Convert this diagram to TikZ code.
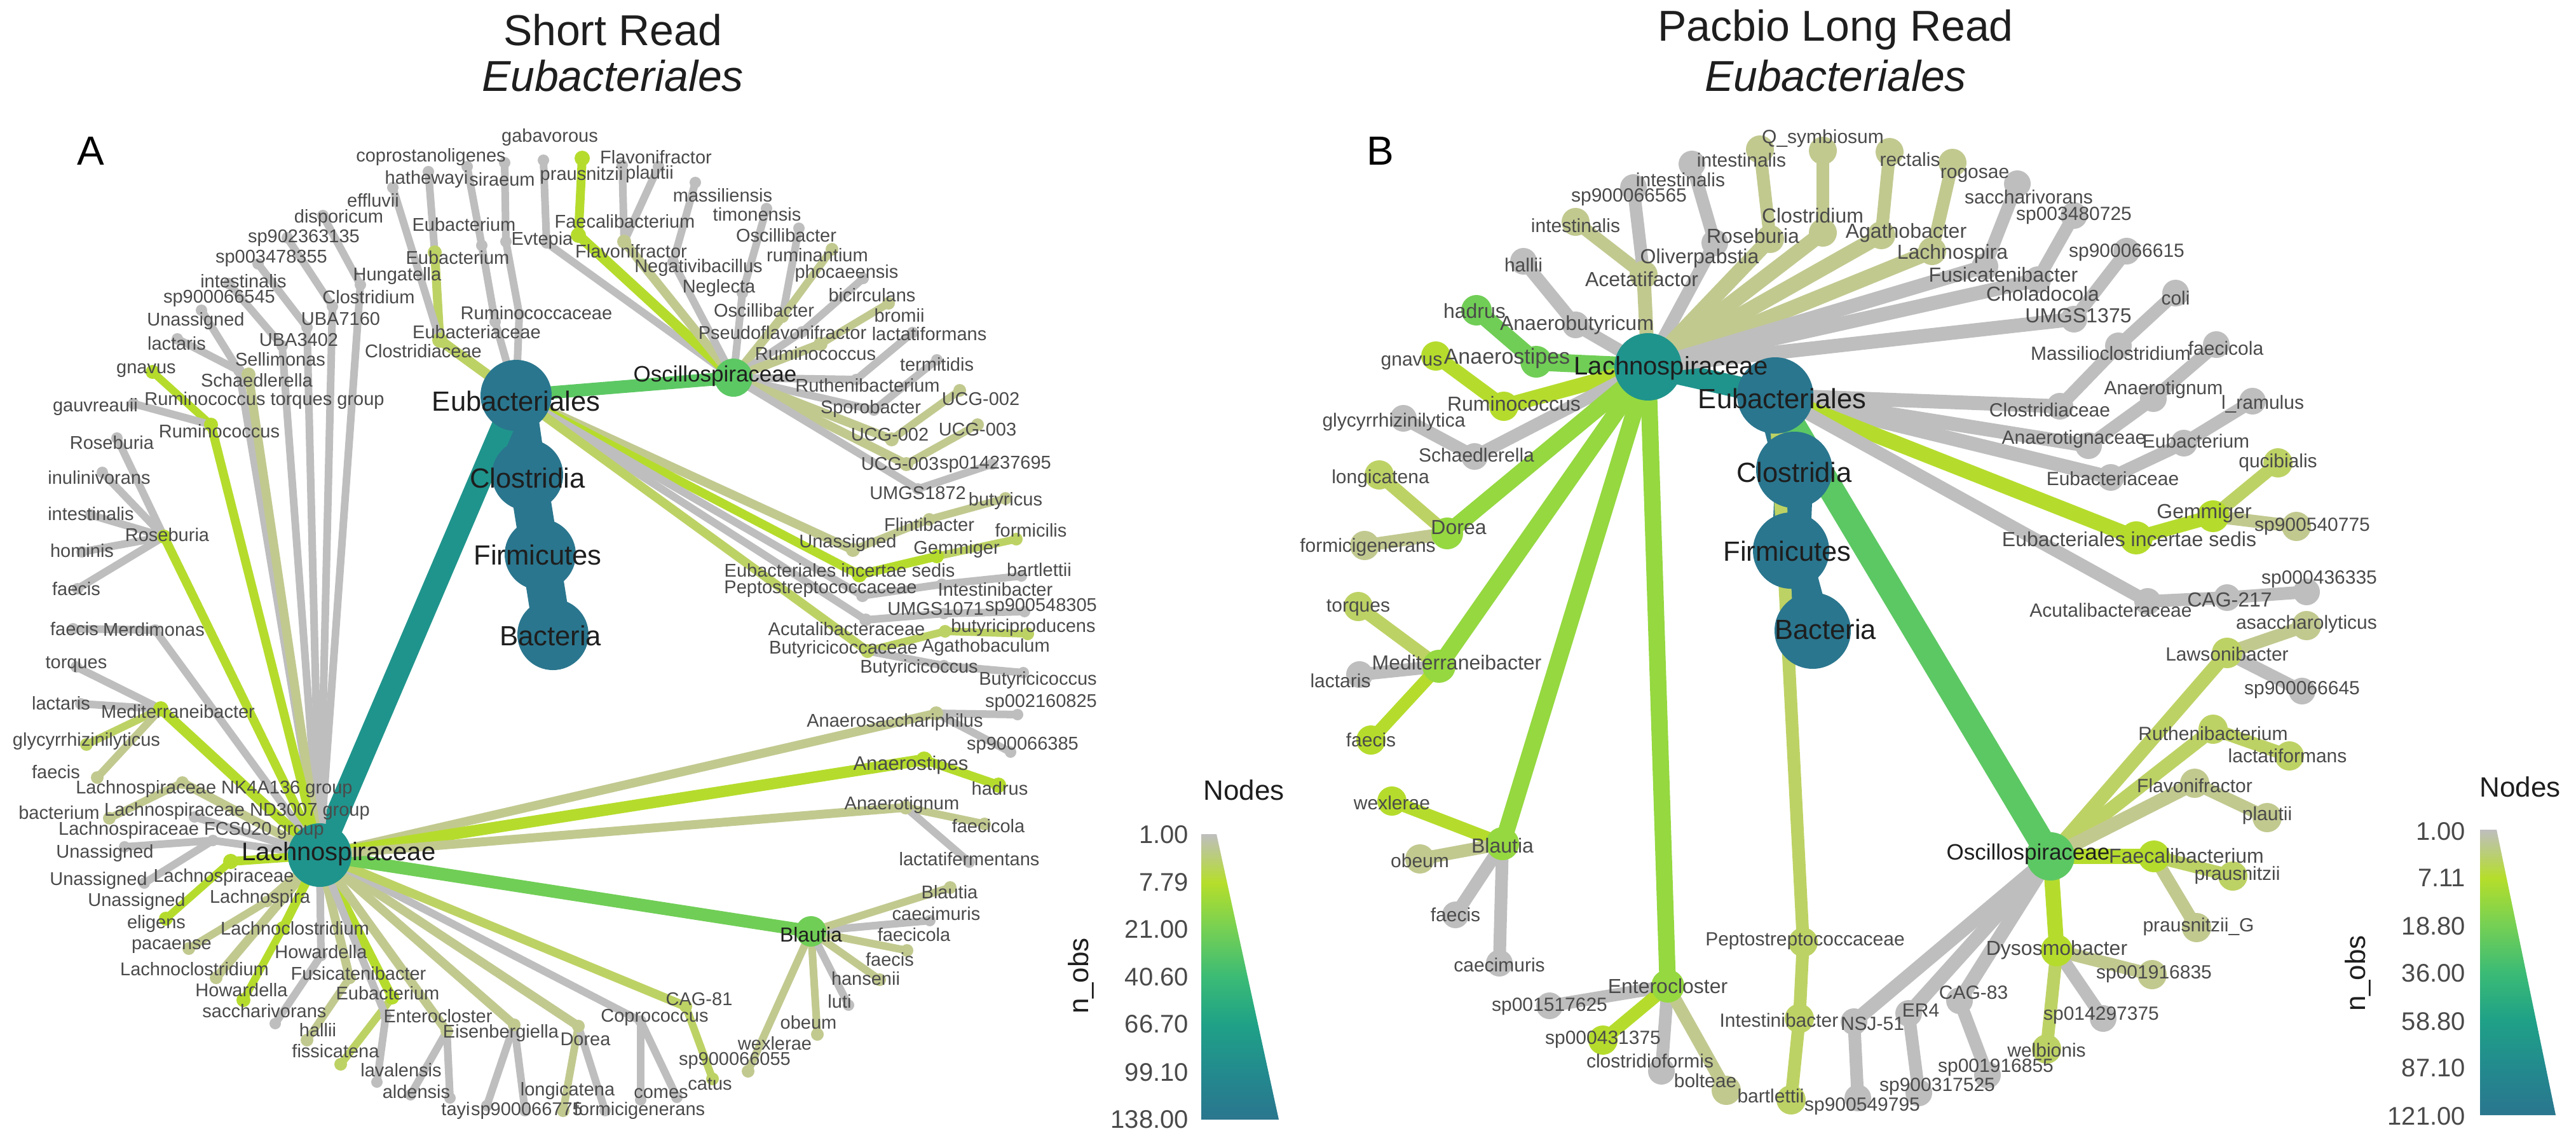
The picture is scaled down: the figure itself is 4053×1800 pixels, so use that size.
\documentclass[tikz,border=0pt]{standalone}
\usepackage{fontspec}
\setmainfont{Liberation Sans}
\pgfdeclarelayer{bg}
\pgfsetlayers{bg,main}
\definecolor{gy}{HTML}{BEBEBE}
\definecolor{ol}{HTML}{C2C98F}
\definecolor{oy}{HTML}{BDD264}
\definecolor{yg}{HTML}{B5DC2C}
\definecolor{lg}{HTML}{95D840}
\definecolor{gn}{HTML}{70CE56}
\definecolor{gm}{HTML}{5CC863}
\definecolor{tl}{HTML}{1F948C}
\definecolor{dk}{HTML}{2A768E}
\definecolor{txt}{HTML}{4A4A4A}
\definecolor{txb}{HTML}{1E1E1E}
\definecolor{sha}{HTML}{23898E}
\definecolor{shb}{HTML}{1FA187}
\definecolor{shc}{HTML}{3BBB75}
\definecolor{shd}{HTML}{75D054}
\definecolor{she}{HTML}{B5DE2B}
\pgfdeclareverticalshading{nobs}{100bp}{color(0bp)=(dk); color(25bp)=(dk); color(33bp)=(sha); color(41.7bp)=(shb); color(50bp)=(shc); color(58.3bp)=(shd); color(66.5bp)=(she); color(75bp)=(gy); color(100bp)=(gy)}
\newcounter{lab}
\newcommand\ndot[5]{\node[circle,inner sep=0pt,fill=#4,minimum size=#5pt] (#1) at (#2,#3) {};}
\newcommand\nedge[4]{\draw[line width=#4pt,draw=#3] (#1.center) -- (#2.center);}
\newcommand\nlab[4]{\stepcounter{lab}\node[text=txt,inner sep=0pt,font=\fontsize{#4pt}{#4pt}\selectfont] (t\arabic{lab}) at (#1,#2) {#3};}
\newcommand\nbig[4]{\stepcounter{lab}\node[text=txb,inner sep=0pt,font=\fontsize{#4pt}{#4pt}\selectfont] (t\arabic{lab}) at (#1,#2) {#3};}
\begin{document}
\begin{tikzpicture}[x=0.5pt,y=-0.5pt]
\useasboundingbox (0,0) rectangle (4053,1800);
% ================= LEFT PANEL dots
\ndot{Aeub}{812}{622}{dk}{56}
\ndot{Aclo}{830}{747}{dk}{56}
\ndot{Afir}{850}{872}{dk}{56}
\ndot{Abac}{870}{998}{dk}{56}
\ndot{Alach}{503}{1345}{tl}{50}
\ndot{Aosc}{1154}{594}{gm}{30}
\ndot{Ablau}{1276}{1465}{gn}{24}
\ndot{Aa1}{779}{506}{gy}{9}
\ndot{Aa2}{758}{386}{gy}{9}
\ndot{Aa3}{735}{262}{gy}{9}
\ndot{Ab1}{817}{494}{gy}{9}
\ndot{Ab2}{796}{380}{gy}{9}
\ndot{Ab3}{794}{256}{gy}{9}
\ndot{Aebc}{692}{535}{oy}{12}
\ndot{Aebm}{684}{397}{oy}{11}
\ndot{Ahath}{674}{270}{gy}{9}
\ndot{Aeffl}{618}{295}{gy}{9}
\ndot{Aunas}{1342}{865}{ol}{11}
\ndot{Aflin}{1462}{817}{ol}{10}
\ndot{Abuty}{1582}{784}{ol}{10}
\ndot{Aics}{1352}{904}{yg}{12}
\ndot{Agem}{1474}{875}{yg}{11}
\ndot{Aform}{1599}{848}{oy}{10}
\ndot{Apep}{1357}{937}{gy}{10}
\ndot{Aintb}{1482}{919}{gy}{9}
\ndot{Abart}{1607}{906}{gy}{9}
\ndot{Aacu}{1362}{975}{gy}{10}
\ndot{Aumgb}{1485}{965}{gy}{9}
\ndot{Aspf}{1612}{962}{gy}{9}
\ndot{Abuc}{1365}{1024}{oy}{11}
\ndot{Aagb}{1487}{993}{oy}{10}
\ndot{Abpro}{1617}{997}{oy}{10}
\ndot{Abcg}{1485}{1047}{gy}{9}
\ndot{Abcs}{1610}{1058}{gy}{9}
\ndot{Aevt}{860}{382}{gy}{9}
\ndot{Agaba}{855}{252}{gy}{9}
\ndot{Afae}{910}{370}{yg}{12}
\ndot{Aprau}{916}{249}{yg}{12}
\ndot{Aflv}{982}{380}{ol}{11}
\ndot{Aflvs}{979}{260}{gy}{9}
\ndot{Aplau}{1036}{262}{gy}{9}
\ndot{Aneg}{1059}{412}{gy}{9}
\ndot{Amass}{1094}{287}{gy}{9}
\ndot{Anegl}{1168}{461}{gy}{9}
\ndot{Atimo}{1206}{328}{gy}{9}
\ndot{Aosb}{1231}{498}{ol}{10}
\ndot{Aosbs}{1257}{359}{gy}{9}
\ndot{Arumt}{1309}{392}{ol}{10}
\ndot{Apseu}{1262}{522}{gy}{9}
\ndot{Aphoc}{1358}{438}{gy}{9}
\ndot{Arum}{1291}{541}{ol}{11}
\ndot{Abrom}{1398}{477}{ol}{10}
\ndot{Aruth}{1347}{597}{gy}{9}
\ndot{Alacf}{1436}{523}{gy}{9}
\ndot{Aspor}{1375}{645}{gy}{9}
\ndot{Aterm}{1474}{566}{gy}{9}
\ndot{Aucgb}{1403}{691}{ol}{11}
\ndot{Aucgbs}{1510}{614}{ol}{10}
\ndot{Aucgc}{1426}{730}{ol}{11}
\ndot{Aucgcs}{1538}{668}{ol}{10}
\ndot{Aumg}{1444}{769}{gy}{9}
\ndot{Aspg}{1561}{730}{gy}{9}
\ndot{Ahung}{567}{448}{gy}{9}
\ndot{Adisp}{508}{339}{gy}{9}
\ndot{Aclos}{523}{482}{gy}{9}
\ndot{Asa}{452}{374}{gy}{9}
\ndot{Aub}{483}{515}{gy}{9}
\ndot{Asb}{406}{415}{gy}{9}
\ndot{Auc}{444}{544}{gy}{9}
\ndot{Aint}{360}{446}{gy}{9}
\ndot{Asel}{376}{583}{gy}{9}
\ndot{Alact}{279}{533}{gy}{9}
\ndot{Asc}{317}{488}{gy}{9}
\ndot{Asch}{391}{589}{ol}{11}
\ndot{Arumi}{332}{668}{yg}{11}
\ndot{Agnav}{240}{585}{yg}{11}
\ndot{Agauv}{210}{635}{gy}{9}
\ndot{Aros}{258}{844}{yg}{11}
\ndot{Arint}{143}{810}{gy}{9}
\ndot{Arhom}{129}{868}{gy}{9}
\ndot{Arfae}{122}{926}{gy}{9}
\ndot{Arros}{184}{689}{gy}{9}
\ndot{Arinu}{161}{743}{gy}{9}
\ndot{Amer}{244}{991}{gy}{9}
\ndot{Amfae}{115}{989}{gy}{9}
\ndot{Amed}{253}{1115}{yg}{12}
\ndot{Amtor}{120}{1049}{gy}{9}
\ndot{Amlac}{127}{1107}{gy}{9}
\ndot{Amgly}{136}{1171}{oy}{10}
\ndot{Amfaeb}{153}{1223}{ol}{10}
\ndot{Ank}{287}{1231}{ol}{10}
\ndot{Ankb}{172}{1287}{ol}{10}
\ndot{And}{306}{1285}{gy}{9}
\ndot{Afcs}{335}{1322}{gy}{9}
\ndot{Afcsu}{196}{1332}{gy}{9}
\ndot{Afcsv}{227}{1389}{gy}{9}
\ndot{Algen}{363}{1355}{yg}{12}
\ndot{Algu}{261}{1445}{yg}{11}
\ndot{Alspi}{420}{1418}{ol}{9}
\ndot{Apaca}{297}{1492}{ol}{10}
\ndot{Alclb}{340}{1538}{ol}{10}
\ndot{Alcl}{445}{1460}{yg}{11}
\ndot{Ahowb}{383}{1573}{yg}{11}
\ndot{Ahow}{505}{1503}{gy}{9}
\ndot{Asac}{433}{1610}{gy}{9}
\ndot{Afus}{550}{1538}{ol}{10}
\ndot{Ahal}{483}{1636}{ol}{10}
\ndot{Aeubm}{617}{1569}{yg}{11}
\ndot{Afiss}{536}{1674}{oy}{10}
\ndot{Aenb}{607}{1598}{gy}{9}
\ndot{Aentl}{593}{1702}{gy}{9}
\ndot{Aent}{703}{1622}{ol}{10}
\ndot{Aenta}{646}{1722}{gy}{9}
\ndot{Aentt}{708}{1727}{gy}{9}
\ndot{Aeis}{809}{1612}{ol}{10}
\ndot{Aeist}{766}{1739}{gy}{9}
\ndot{Aeiss}{826}{1747}{gy}{9}
\ndot{Ador}{910}{1614}{ol}{10}
\ndot{Adorl}{886}{1747}{ol}{10}
\ndot{Adorf}{952}{1747}{gy}{9}
\ndot{Acop}{1008}{1606}{gy}{9}
\ndot{Acope}{1065}{1726}{gy}{9}
\ndot{Acopc}{1008}{1730}{gy}{9}
\ndot{Acag}{1079}{1583}{oy}{10}
\ndot{Acags}{1121}{1697}{oy}{10}
\ndot{Abwex}{1177}{1685}{ol}{10}
\ndot{Abobe}{1286}{1627}{ol}{10}
\ndot{Abluti}{1335}{1581}{gy}{9}
\ndot{Abhan}{1384}{1541}{ol}{10}
\ndot{Abfae}{1427}{1495}{ol}{10}
\ndot{Abcae}{1463}{1448}{gy}{9}
\ndot{Absp}{1495}{1396}{ol}{10}
\ndot{Aanas}{1473}{1122}{ol}{11}
\ndot{Asd}{1601}{1124}{gy}{9}
\ndot{Ase}{1590}{1183}{gy}{9}
\ndot{Aanst}{1454}{1195}{yg}{13}
\ndot{Ahadr}{1571}{1235}{yg}{12}
\ndot{Aanat}{1425}{1270}{ol}{11}
\ndot{Aafae}{1549}{1296}{ol}{10}
\ndot{Aalac}{1525}{1356}{gy}{9}
% ================= RIGHT PANEL dots
\ndot{Beub}{2793}{622}{dk}{60}
\ndot{Bclo}{2823}{739}{dk}{60}
\ndot{Bfir}{2818}{866}{dk}{60}
\ndot{Bbac}{2852}{992}{dk}{60}
\ndot{Blach}{2593}{577}{tl}{53}
\ndot{Bosc}{3226}{1347}{gm}{38}
\ndot{Banst}{2417}{569}{gn}{25}
\ndot{Bhadr}{2323}{488}{gn}{24}
\ndot{Brumi}{2366}{639}{yg}{23}
\ndot{Bgnav}{2259}{560}{yg}{23}
\ndot{Banab}{2479}{511}{gy}{21}
\ndot{Bhall}{2397}{411}{gy}{21}
\ndot{Bsch}{2320}{718}{gy}{21}
\ndot{Bgly}{2208}{658}{gy}{21}
\ndot{Bacet}{2586}{432}{ol}{22}
\ndot{Baint}{2479}{349}{ol}{22}
\ndot{Basp}{2570}{295}{gy}{21}
\ndot{Boliv}{2698}{382}{gy}{21}
\ndot{Boint}{2662}{258}{gy}{21}
\ndot{Bros}{2785}{376}{ol}{22}
\ndot{Brint}{2769}{235}{ol}{22}
\ndot{Bclos}{2868}{366}{ol}{22}
\ndot{Bqsym}{2868}{237}{ol}{22}
\ndot{Bagat}{2960}{370}{ol}{22}
\ndot{Brect}{2973}{239}{ol}{22}
\ndot{Blspi}{3040}{395}{ol}{22}
\ndot{Brogo}{3072}{256}{ol}{22}
\ndot{Bfusi}{3123}{419}{gy}{21}
\ndot{Bsacc}{3174}{289}{gy}{21}
\ndot{Bchol}{3206}{440}{gy}{21}
\ndot{Bsa}{3263}{339}{gy}{21}
\ndot{Bumgs}{3263}{502}{gy}{21}
\ndot{Bsb}{3346}{395}{gy}{21}
\ndot{Bdor}{2277}{839}{lg}{25}
\ndot{Bdlon}{2170}{747}{oy}{23}
\ndot{Bdfor}{2147}{858}{ol}{23}
\ndot{Bmed}{2264}{1048}{lg}{26}
\ndot{Bmtor}{2137}{954}{oy}{23}
\ndot{Bmlac}{2139}{1061}{gy}{21}
\ndot{Bmfae}{2157}{1164}{yg}{23}
\ndot{Bblau}{2364}{1327}{lg}{26}
\ndot{Bbwex}{2190}{1260}{yg}{23}
\ndot{Bbobe}{2234}{1351}{ol}{23}
\ndot{Bbfae}{2290}{1439}{gy}{21}
\ndot{Bbcae}{2359}{1515}{gy}{21}
\ndot{Bent}{2624}{1551}{lg}{26}
\ndot{Besa}{2438}{1582}{gy}{21}
\ndot{Besb}{2522}{1636}{yg}{23}
\ndot{Beclo}{2614}{1685}{gy}{21}
\ndot{Bebol}{2716}{1715}{ol}{23}
\ndot{Bpep}{2837}{1482}{oy}{23}
\ndot{Bintb}{2831}{1602}{oy}{23}
\ndot{Bbart}{2818}{1730}{oy}{23}
\ndot{Bclac}{3241}{639}{gy}{21}
\ndot{Bmass}{3333}{544}{gy}{21}
\ndot{Bcoli}{3423}{461}{gy}{21}
\ndot{Banac}{3286}{701}{gy}{21}
\ndot{Banat}{3388}{627}{gy}{21}
\ndot{Bafae}{3487}{542}{gy}{21}
\ndot{Bebac}{3321}{751}{gy}{21}
\ndot{Bebm}{3436}{697}{gy}{21}
\ndot{Blram}{3544}{631}{gy}{21}
\ndot{Bics}{3361}{846}{yg}{26}
\ndot{Bgem}{3482}{812}{yg}{25}
\ndot{Bquci}{3584}{728}{oy}{23}
\ndot{Bsc}{3613}{828}{ol}{23}
\ndot{Bacu}{3379}{946}{gy}{21}
\ndot{Bcag}{3504}{940}{gy}{21}
\ndot{Bsd}{3629}{931}{gy}{21}
\ndot{Blaws}{3504}{1027}{oy}{24}
\ndot{Basac}{3629}{984}{ol}{23}
\ndot{Bse}{3622}{1087}{gy}{21}
\ndot{Bruth}{3482}{1147}{oy}{23}
\ndot{Blacf}{3602}{1189}{oy}{23}
\ndot{Bflav}{3453}{1232}{ol}{23}
\ndot{Bplau}{3567}{1286}{ol}{23}
\ndot{Bfaec}{3389}{1347}{yg}{25}
\ndot{Bprau}{3513}{1378}{oy}{23}
\ndot{Bprg}{3456}{1459}{ol}{23}
\ndot{Bdys}{3236}{1495}{yg}{25}
\ndot{Bsf}{3386}{1533}{ol}{23}
\ndot{Bsg}{3309}{1602}{gy}{21}
\ndot{Bwelb}{3220}{1650}{oy}{23}
\ndot{Bceight}{3083}{1574}{gy}{21}
\ndot{Bsh}{3127}{1691}{gy}{21}
\ndot{Ber}{3003}{1594}{gy}{21}
\ndot{Bsi}{3019}{1719}{gy}{21}
\ndot{Bnsj}{2917}{1607}{gy}{21}
\ndot{Bsj}{2923}{1727}{gy}{21}
% ================= EDGES
\begin{pgfonlayer}{bg}
\fill[white] (0,0) rectangle (4053,1800);
\nedge{Aeub}{Aclo}{dk}{30}\nedge{Aclo}{Afir}{dk}{30}\nedge{Afir}{Abac}{dk}{30}
\nedge{Aeub}{Alach}{tl}{18}\nedge{Aeub}{Aosc}{gm}{10}
\nedge{Aeub}{Aa1}{gy}{6}\nedge{Aa1}{Aa2}{gy}{6}\nedge{Aa2}{Aa3}{gy}{6}
\nedge{Aeub}{Ab1}{gy}{6}\nedge{Ab1}{Ab2}{gy}{6}\nedge{Ab2}{Ab3}{gy}{6}
\nedge{Aeub}{Aebc}{oy}{8}\nedge{Aebc}{Aebm}{oy}{7}\nedge{Aebm}{Ahath}{gy}{6}\nedge{Aebc}{Aeffl}{gy}{6}
\nedge{Aeub}{Aunas}{ol}{7}\nedge{Aunas}{Aflin}{ol}{6}\nedge{Aflin}{Abuty}{ol}{6}
\nedge{Aeub}{Aics}{yg}{7}\nedge{Aics}{Agem}{yg}{7}\nedge{Agem}{Aform}{oy}{6}
\nedge{Aeub}{Apep}{gy}{6}\nedge{Apep}{Aintb}{gy}{6}\nedge{Aintb}{Abart}{gy}{6}
\nedge{Aeub}{Aacu}{gy}{6}\nedge{Aacu}{Aumgb}{gy}{6}\nedge{Aumgb}{Aspf}{gy}{6}
\nedge{Aeub}{Abuc}{oy}{7}\nedge{Abuc}{Aagb}{oy}{6}\nedge{Aagb}{Abpro}{oy}{6}\nedge{Abuc}{Abcg}{gy}{6}\nedge{Abcg}{Abcs}{gy}{6}
\nedge{Aosc}{Aevt}{gy}{6}\nedge{Aevt}{Agaba}{gy}{6}
\nedge{Aosc}{Afae}{yg}{8}\nedge{Afae}{Aprau}{yg}{7}
\nedge{Aosc}{Aflv}{ol}{7}\nedge{Aflv}{Aflvs}{gy}{6}\nedge{Aflv}{Aplau}{gy}{6}
\nedge{Aosc}{Aneg}{gy}{6}\nedge{Aneg}{Amass}{gy}{6}
\nedge{Aosc}{Anegl}{gy}{6}\nedge{Anegl}{Atimo}{gy}{6}
\nedge{Aosc}{Aosb}{ol}{7}\nedge{Aosb}{Aosbs}{gy}{6}\nedge{Aosb}{Arumt}{ol}{6}
\nedge{Aosc}{Apseu}{gy}{6}\nedge{Apseu}{Aphoc}{gy}{6}
\nedge{Aosc}{Arum}{ol}{7}\nedge{Arum}{Abrom}{ol}{6}
\nedge{Aosc}{Aruth}{gy}{6}\nedge{Aruth}{Alacf}{gy}{6}
\nedge{Aosc}{Aspor}{gy}{6}\nedge{Aspor}{Aterm}{gy}{6}
\nedge{Aosc}{Aucgb}{ol}{7}\nedge{Aucgb}{Aucgbs}{ol}{6}
\nedge{Aosc}{Aucgc}{ol}{7}\nedge{Aucgc}{Aucgcs}{ol}{6}
\nedge{Aosc}{Aumg}{gy}{6}\nedge{Aumg}{Aspg}{gy}{6}
\nedge{Alach}{Ahung}{gy}{6}\nedge{Ahung}{Adisp}{gy}{6}
\nedge{Alach}{Aclos}{gy}{6}\nedge{Aclos}{Asa}{gy}{6}
\nedge{Alach}{Aub}{gy}{6}\nedge{Aub}{Asb}{gy}{6}
\nedge{Alach}{Auc}{gy}{6}\nedge{Auc}{Aint}{gy}{6}
\nedge{Alach}{Asel}{gy}{6}\nedge{Asel}{Alact}{gy}{6}\nedge{Asel}{Asc}{gy}{6}
\nedge{Alach}{Asch}{ol}{7}
\nedge{Alach}{Arumi}{yg}{7}\nedge{Arumi}{Agnav}{yg}{6}\nedge{Arumi}{Agauv}{gy}{6}
\nedge{Alach}{Aros}{yg}{7}\nedge{Aros}{Arint}{gy}{6}\nedge{Aros}{Arhom}{gy}{6}\nedge{Aros}{Arfae}{gy}{6}\nedge{Aros}{Arros}{gy}{6}\nedge{Aros}{Arinu}{gy}{6}
\nedge{Alach}{Amer}{gy}{6}\nedge{Amer}{Amfae}{gy}{6}
\nedge{Alach}{Amed}{yg}{8}\nedge{Amed}{Amtor}{gy}{6}\nedge{Amed}{Amlac}{gy}{6}\nedge{Amed}{Amgly}{oy}{6}\nedge{Amed}{Amfaeb}{ol}{6}
\nedge{Alach}{Ank}{ol}{7}\nedge{Ank}{Ankb}{ol}{6}
\nedge{Alach}{And}{gy}{6}
\nedge{Alach}{Afcs}{gy}{6}\nedge{Afcs}{Afcsu}{gy}{6}\nedge{Afcs}{Afcsv}{gy}{6}
\nedge{Alach}{Algen}{yg}{7}\nedge{Algen}{Algu}{yg}{6}
\nedge{Alach}{Alspi}{ol}{7}\nedge{Alspi}{Apaca}{ol}{6}
\nedge{Alach}{Alclb}{ol}{7}
\nedge{Alach}{Alcl}{yg}{7}\nedge{Alcl}{Ahowb}{yg}{6}
\nedge{Alach}{Ahow}{gy}{6}\nedge{Ahow}{Asac}{gy}{6}
\nedge{Alach}{Afus}{ol}{7}\nedge{Afus}{Ahal}{ol}{6}
\nedge{Alach}{Aeubm}{yg}{7}\nedge{Aeubm}{Afiss}{oy}{6}
\nedge{Alach}{Aenb}{gy}{6}\nedge{Aenb}{Aentl}{gy}{6}
\nedge{Alach}{Aent}{ol}{7}\nedge{Aent}{Aenta}{gy}{6}\nedge{Aent}{Aentt}{gy}{6}
\nedge{Alach}{Aeis}{ol}{7}\nedge{Aeis}{Aeist}{gy}{6}\nedge{Aeis}{Aeiss}{gy}{6}
\nedge{Alach}{Ador}{ol}{7}\nedge{Ador}{Adorl}{ol}{6}\nedge{Ador}{Adorf}{gy}{6}
\nedge{Alach}{Acop}{gy}{6}\nedge{Acop}{Acope}{gy}{6}\nedge{Acop}{Acopc}{gy}{6}
\nedge{Alach}{Acag}{oy}{7}\nedge{Acag}{Acags}{oy}{6}
\nedge{Alach}{Ablau}{gn}{10}
\nedge{Ablau}{Abwex}{ol}{6}\nedge{Ablau}{Abobe}{ol}{6}\nedge{Ablau}{Abluti}{gy}{6}\nedge{Ablau}{Abhan}{ol}{6}\nedge{Ablau}{Abfae}{ol}{6}\nedge{Ablau}{Abcae}{gy}{6}\nedge{Ablau}{Absp}{ol}{6}
\nedge{Alach}{Aanas}{ol}{7}\nedge{Aanas}{Asd}{gy}{6}\nedge{Aanas}{Ase}{gy}{6}
\nedge{Alach}{Aanst}{yg}{9}\nedge{Aanst}{Ahadr}{yg}{7}
\nedge{Alach}{Aanat}{ol}{7}\nedge{Aanat}{Aafae}{ol}{6}\nedge{Aanat}{Aalac}{gy}{6}
% right
\nedge{Beub}{Bclo}{dk}{30}\nedge{Bclo}{Bfir}{dk}{30}\nedge{Bfir}{Bbac}{dk}{30}
\nedge{Beub}{Blach}{tl}{17}\nedge{Beub}{Bosc}{gm}{20}
\nedge{Beub}{Bpep}{oy}{10}\nedge{Bpep}{Bintb}{oy}{10}\nedge{Bintb}{Bbart}{oy}{10}
\nedge{Beub}{Bclac}{gy}{11}\nedge{Bclac}{Bmass}{gy}{10}\nedge{Bmass}{Bcoli}{gy}{10}
\nedge{Beub}{Banac}{gy}{11}\nedge{Banac}{Banat}{gy}{10}\nedge{Banat}{Bafae}{gy}{10}
\nedge{Beub}{Bebac}{gy}{11}\nedge{Bebac}{Bebm}{gy}{10}\nedge{Bebm}{Blram}{gy}{10}
\nedge{Beub}{Bics}{yg}{12}\nedge{Bics}{Bgem}{yg}{11}\nedge{Bgem}{Bquci}{oy}{10}\nedge{Bgem}{Bsc}{ol}{10}
\nedge{Beub}{Bacu}{gy}{10}\nedge{Bacu}{Bcag}{gy}{10}\nedge{Bcag}{Bsd}{gy}{10}
\nedge{Blach}{Banst}{gn}{14}\nedge{Banst}{Bhadr}{gn}{13}
\nedge{Blach}{Brumi}{yg}{12}\nedge{Brumi}{Bgnav}{yg}{11}
\nedge{Blach}{Banab}{gy}{10}\nedge{Banab}{Bhall}{gy}{10}
\nedge{Blach}{Bsch}{gy}{10}\nedge{Bsch}{Bgly}{gy}{10}
\nedge{Blach}{Bacet}{ol}{11}\nedge{Bacet}{Baint}{ol}{10}\nedge{Bacet}{Basp}{gy}{10}
\nedge{Blach}{Boliv}{gy}{10}\nedge{Boliv}{Boint}{gy}{10}
\nedge{Blach}{Bros}{ol}{12}\nedge{Bros}{Brint}{ol}{10}
\nedge{Blach}{Bclos}{ol}{12}\nedge{Bclos}{Bqsym}{ol}{10}
\nedge{Blach}{Bagat}{ol}{12}\nedge{Bagat}{Brect}{ol}{10}
\nedge{Blach}{Blspi}{ol}{12}\nedge{Blspi}{Brogo}{ol}{10}
\nedge{Blach}{Bfusi}{gy}{11}\nedge{Bfusi}{Bsacc}{gy}{10}
\nedge{Blach}{Bchol}{gy}{11}\nedge{Bchol}{Bsa}{gy}{10}
\nedge{Blach}{Bumgs}{gy}{11}\nedge{Bumgs}{Bsb}{gy}{10}
\nedge{Blach}{Bdor}{lg}{13}\nedge{Bdor}{Bdlon}{oy}{10}\nedge{Bdor}{Bdfor}{ol}{10}
\nedge{Blach}{Bmed}{lg}{13}\nedge{Bmed}{Bmtor}{oy}{10}\nedge{Bmed}{Bmlac}{gy}{10}\nedge{Bmed}{Bmfae}{yg}{10}
\nedge{Blach}{Bblau}{lg}{13}\nedge{Bblau}{Bbwex}{yg}{10}\nedge{Bblau}{Bbobe}{ol}{10}\nedge{Bblau}{Bbfae}{gy}{10}\nedge{Bblau}{Bbcae}{gy}{10}
\nedge{Blach}{Bent}{lg}{13}\nedge{Bent}{Besa}{gy}{10}\nedge{Bent}{Besb}{yg}{10}\nedge{Bent}{Beclo}{gy}{10}\nedge{Bent}{Bebol}{ol}{10}
\nedge{Bosc}{Blaws}{oy}{11}\nedge{Blaws}{Basac}{ol}{10}\nedge{Blaws}{Bse}{gy}{10}
\nedge{Bosc}{Bruth}{oy}{11}\nedge{Bruth}{Blacf}{oy}{10}
\nedge{Bosc}{Bflav}{ol}{11}\nedge{Bflav}{Bplau}{ol}{10}
\nedge{Bosc}{Bfaec}{yg}{12}\nedge{Bfaec}{Bprau}{oy}{10}\nedge{Bfaec}{Bprg}{ol}{10}
\nedge{Bosc}{Bdys}{yg}{12}\nedge{Bdys}{Bsf}{ol}{10}\nedge{Bdys}{Bsg}{gy}{10}\nedge{Bdys}{Bwelb}{oy}{10}
\nedge{Bosc}{Bceight}{gy}{11}\nedge{Bceight}{Bsh}{gy}{10}
\nedge{Bosc}{Ber}{gy}{11}\nedge{Ber}{Bsi}{gy}{10}
\nedge{Bosc}{Bnsj}{gy}{11}\nedge{Bnsj}{Bsj}{gy}{10}
\end{pgfonlayer}
% ================= LEFT labels
\nbig{812}{631}{Eubacteriales}{21.8}
\nbig{830}{752}{Clostridia}{21.8}
\nbig{846}{873}{Firmicutes}{21.8}
\nbig{866}{1000}{Bacteria}{21.8}
\nbig{533}{1343}{Lachnospiraceae}{20}
\nbig{1125}{591}{Oscillospiraceae}{17.5}
\nbig{1276}{1470}{Blautia}{16}
\nlab{678}{247}{coprostanoligenes}{14.5}
\nlab{671}{282}{hathewayi}{14.5}
\nlab{790}{282}{siraeum}{14.5}
\nlab{587}{315}{effluvii}{14.5}
\nlab{533}{343}{disporicum}{14.5}
\nlab{730}{353}{Eubacterium}{14.5}
\nlab{478}{374}{sp902363135}{14.5}
\nlab{720}{405}{Eubacterium}{14.5}
\nlab{427}{406}{sp003478355}{14.5}
\nlab{625}{434}{Hungatella}{14.5}
\nlab{383}{442}{intestinalis}{14.5}
\nlab{580}{467}{Clostridium}{14.5}
\nlab{345}{469}{sp900066545}{14.5}
\nlab{536}{502}{UBA7160}{14.5}
\nlab{308}{505}{Unassigned}{14.5}
\nlab{470}{535}{UBA3402}{14.5}
\nlab{278}{540}{lactaris}{14.5}
\nlab{750}{522}{Eubacteriaceae}{14.5}
\nlab{666}{552}{Clostridiaceae}{14.5}
\nlab{844}{492}{Ruminococcaceae}{14.5}
\nlab{441}{565}{Sellimonas}{14.5}
\nlab{230}{583}{gnavus}{14.5}
\nlab{404}{598}{Schaedlerella}{14.5}
\nlab{416}{630}{Ruminococcus torques group}{14.5}
\nlab{150}{640}{gauvreauii}{14.5}
\nlab{345}{678}{Ruminococcus}{14.5}
\nlab{176}{696}{Roseburia}{14.5}
\nlab{156}{751}{inulinivorans}{14.5}
\nlab{865}{216}{gabavorous}{14.5}
\nlab{1032}{247}{Flavonifractor}{14.5}
\nlab{915}{276}{prausnitzii}{14.5}
\nlab{1022}{274}{plautii}{14.5}
\nlab{1137}{307}{massiliensis}{14.5}
\nlab{1191}{337}{timonensis}{14.5}
\nlab{983}{348}{Faecalibacterium}{14.5}
\nlab{1237}{370}{Oscillibacter}{14.5}
\nlab{853}{378}{Evtepia}{14.5}
\nlab{993}{395}{Flavonifractor}{14.5}
\nlab{1286}{401}{ruminantium}{14.5}
\nlab{1099}{421}{Negativibacillus}{14.5}
\nlab{1332}{430}{phocaeensis}{14.5}
\nlab{1131}{453}{Neglecta}{14.5}
\nlab{1372}{464}{bicirculans}{14.5}
\nlab{1202}{488}{Oscillibacter}{14.5}
\nlab{1415}{496}{bromii}{14.5}
\nlab{1231}{523}{Pseudoflavonifractor}{14.5}
\nlab{1462}{525}{lactatiformans}{14.5}
\nlab{1283}{556}{Ruminococcus}{14.5}
\nlab{1365}{606}{Ruthenibacterium}{14.5}
\nlab{1474}{573}{termitidis}{14.5}
\nlab{1370}{643}{Sporobacter}{14.5}
\nlab{1543}{628}{UCG-002}{14.5}
\nlab{1400}{684}{UCG-002}{14.5}
\nlab{1538}{676}{UCG-003}{14.5}
\nlab{1416}{730}{UCG-003}{14.5}
\nlab{1566}{730}{sp014237695}{14.5}
\nlab{1444}{776}{UMGS1872}{14.5}
\nlab{1582}{788}{butyricus}{14.5}
\nlab{1462}{825}{Flintibacter}{14.5}
\nlab{1622}{834}{formicilis}{14.5}
\nlab{1334}{854}{Unassigned}{14.5}
\nlab{1505}{864}{Gemmiger}{14.5}
\nlab{1321}{897}{Eubacteriales incertae sedis}{14.5}
\nlab{1635}{896}{bartlettii}{14.5}
\nlab{1291}{927}{Peptostreptococcaceae}{14.5}
\nlab{1566}{927}{Intestinibacter}{14.5}
\nlab{1472}{958}{UMGS1071}{14.5}
\nlab{1638}{954}{sp900548305}{14.5}
\nlab{1332}{989}{Acutalibacteraceae}{14.5}
\nlab{1610}{987}{butyriciproducens}{14.5}
\nlab{1327}{1021}{Butyricicoccaceae}{14.5}
\nlab{1551}{1018}{Agathobaculum}{14.5}
\nlab{1446}{1051}{Butyricicoccus}{14.5}
\nlab{1633}{1070}{Butyricicoccus}{14.5}
\nlab{1638}{1105}{sp002160825}{14.5}
\nlab{1408}{1136}{Anaerosacchariphilus}{14.5}
\nlab{1609}{1172}{sp900066385}{14.5}
\nlab{1433}{1203}{Anaerostipes}{15.5}
\nlab{1573}{1240}{hadrus}{14.5}
\nlab{1419}{1266}{Anaerotignum}{14.5}
\nlab{1555}{1299}{faecicola}{14.5}
\nlab{1525}{1351}{lactatifermentans}{14.5}
\nlab{1494}{1403}{Blautia}{14.5}
\nlab{1473}{1437}{caecimuris}{14.5}
\nlab{1438}{1470}{faecicola}{14.5}
\nlab{1400}{1509}{faecis}{14.5}
\nlab{1362}{1539}{hansenii}{14.5}
\nlab{1321}{1575}{luti}{14.5}
\nlab{1272}{1608}{obeum}{14.5}
\nlab{1219}{1641}{wexlerae}{14.5}
\nlab{1156}{1668}{sp900066055}{14.5}
\nlab{1117}{1705}{catus}{14.5}
\nlab{1100}{1571}{CAG-81}{14.5}
\nlab{1030}{1600}{Coprococcus}{14.5}
\nlab{1040}{1720}{comes}{14.5}
\nlab{921}{1635}{Dorea}{14.5}
\nlab{893}{1716}{longicatena}{14.5}
\nlab{1006}{1747}{formicigenerans}{14.5}
\nlab{829}{1747}{sp900066775}{14.5}
\nlab{717}{1747}{tayi}{14.5}
\nlab{788}{1625}{Eisenbergiella}{14.5}
\nlab{689}{1598}{Enterocloster}{14.5}
\nlab{631}{1683}{lavalensis}{14.5}
\nlab{655}{1717}{aldensis}{14.5}
\nlab{610}{1562}{Eubacterium}{14.5}
\nlab{528}{1653}{fissicatena}{14.5}
\nlab{500}{1620}{hallii}{14.5}
\nlab{564}{1531}{Fusicatenibacter}{14.5}
\nlab{416}{1590}{saccharivorans}{14.5}
\nlab{505}{1497}{Howardella}{14.5}
\nlab{380}{1557}{Howardella}{14.5}
\nlab{464}{1460}{Lachnoclostridium}{14.5}
\nlab{306}{1524}{Lachnoclostridium}{14.5}
\nlab{270}{1489}{pacaense}{14.5}
\nlab{246}{1453}{eligens}{14.5}
\nlab{143}{808}{intestinalis}{14.5}
\nlab{263}{841}{Roseburia}{14.5}
\nlab{129}{866}{hominis}{14.5}
\nlab{120}{926}{faecis}{14.5}
\nlab{117}{989}{faecis}{14.5}
\nlab{242}{990}{Merdimonas}{14.5}
\nlab{120}{1045}{torques}{14.5}
\nlab{96}{1106}{lactaris}{14.5}
\nlab{280}{1119}{Mediterraneibacter}{14.5}
\nlab{136}{1166}{glycyrrhizinilyticus}{14.5}
\nlab{88}{1214}{faecis}{14.5}
\nlab{337}{1241}{Lachnospiraceae NK4A136 group}{14.5}
\nlab{93}{1278}{bacterium}{14.5}
\nlab{373}{1276}{Lachnospiraceae ND3007 group}{14.5}
\nlab{301}{1306}{Lachnospiraceae FCS020 group}{14.5}
\nlab{165}{1342}{Unassigned}{14.5}
\nlab{155}{1385}{Unassigned}{14.5}
\nlab{352}{1380}{Lachnospiraceae}{14.5}
\nlab{215}{1418}{Unassigned}{14.5}
\nlab{409}{1413}{Lachnospira}{14.5}
% ================= RIGHT labels
\nbig{2804}{627}{Eubacteriales}{21.8}
\nbig{2823}{743}{Clostridia}{21.8}
\nbig{2812}{867}{Firmicutes}{21.8}
\nbig{2872}{990}{Bacteria}{21.8}
\nbig{2629}{579}{Lachnospiraceae}{20}
\nbig{3191}{1343}{Oscillospiraceae}{17.5}
\nlab{2868}{218}{Q\_symbiosum}{15}
\nlab{2740}{252}{intestinalis}{15}
\nlab{2644}{283}{intestinalis}{15}
\nlab{2563}{310}{sp900066565}{15}
\nlab{3005}{251}{rectalis}{15}
\nlab{3107}{276}{rogosae}{15}
\nlab{3192}{310}{saccharivorans}{15}
\nlab{3263}{339}{sp003480725}{15}
\nlab{2852}{339}{Clostridium}{16}
\nlab{2479}{355}{intestinalis}{15}
\nlab{2758}{371}{Roseburia}{16}
\nlab{2999}{366}{Agathobacter}{16}
\nlab{2674}{406}{Oliverpabstia}{16}
\nlab{3346}{397}{sp900066615}{15}
\nlab{3072}{399}{Lachnospira}{16}
\nlab{2397}{417}{hallii}{15}
\nlab{2583}{439}{Acetatifactor}{16}
\nlab{3152}{432}{Fusicatenibacter}{16}
\nlab{3214}{462}{Choladocola}{16}
\nlab{3423}{469}{coli}{15}
\nlab{2320}{489}{hadrus}{16}
\nlab{3270}{496}{UMGS1375}{16}
\nlab{2481}{511}{Anaerobutyricum}{16}
\nlab{3321}{556}{Massilioclostridium}{15}
\nlab{3502}{548}{faecicola}{15}
\nlab{2221}{571}{gnavus}{15}
\nlab{2371}{564}{Anaerostipes}{17}
\nlab{3404}{613}{Anaerotignum}{15}
\nlab{3560}{636}{l\_ramulus}{15}
\nlab{2382}{635}{Ruminococcus}{16}
\nlab{3225}{645}{Clostridiaceae}{15}
\nlab{2193}{664}{glycyrrhizinilytica}{15}
\nlab{3263}{691}{Anaerotignaceae}{15}
\nlab{3455}{694}{Eubacterium}{15}
\nlab{2323}{716}{Schaedlerella}{15}
\nlab{3584}{728}{qucibialis}{15}
\nlab{2172}{753}{longicatena}{15}
\nlab{3324}{753}{Eubacteriaceae}{15}
\nlab{3468}{807}{Gemmiger}{16}
\nlab{3638}{828}{sp900540775}{15}
\nlab{2295}{830}{Dorea}{16}
\nlab{3350}{848}{Eubacteriales incertae sedis}{16}
\nlab{2152}{861}{formicigenerans}{15}
\nlab{3649}{911}{sp000436335}{15}
\nlab{3508}{943}{CAG-217}{16}
\nlab{2137}{956}{torques}{15}
\nlab{3321}{960}{Acutalibacteraceae}{15}
\nlab{3629}{982}{asaccharolyticus}{15}
\nlab{3504}{1029}{Lawsonibacter}{15}
\nlab{2292}{1042}{Mediterraneibacter}{16}
\nlab{2109}{1071}{lactaris}{15}
\nlab{3622}{1085}{sp900066645}{15}
\nlab{3482}{1154}{Ruthenibacterium}{15}
\nlab{2157}{1164}{faecis}{15}
\nlab{3599}{1189}{lactatiformans}{15}
\nlab{3453}{1236}{Flavonifractor}{15}
\nlab{2190}{1263}{wexlerae}{15}
\nlab{3567}{1283}{plautii}{15}
\nlab{2364}{1330}{Blautia}{16}
\nlab{3440}{1346}{Faecalibacterium}{16}
\nlab{2234}{1354}{obeum}{15}
\nlab{3520}{1377}{prausnitzii}{15}
\nlab{2290}{1439}{faecis}{15}
\nlab{3459}{1458}{prausnitzii\_G}{15}
\nlab{2840}{1480}{Peptostreptococcaceae}{15}
\nlab{3236}{1494}{Dysosmobacter}{16}
\nlab{2359}{1518}{caecimuris}{15}
\nlab{3389}{1532}{sp001916835}{15}
\nlab{2624}{1551}{Enterocloster}{16}
\nlab{3105}{1561}{CAG-83}{15}
\nlab{2438}{1583}{sp001517625}{15}
\nlab{3022}{1589}{ER4}{15}
\nlab{3306}{1597}{sp014297375}{15}
\nlab{2799}{1605}{Intestinibacter}{15}
\nlab{2946}{1610}{NSJ-51}{15}
\nlab{2522}{1635}{sp000431375}{15}
\nlab{3220}{1652}{welbionis}{15}
\nlab{2596}{1669}{clostridioformis}{15}
\nlab{3140}{1679}{sp001916855}{15}
\nlab{2683}{1700}{bolteae}{15}
\nlab{3048}{1709}{sp900317525}{15}
\nlab{2786}{1724}{bartlettii}{15}
\nlab{2930}{1740}{sp900549795}{15}
% ================= titles
\node[text=txb,font=\fontsize{34pt}{34pt}\selectfont] (titA) at (964,47) {Short Read};
\node[text=txb,font=\fontsize{34pt}{34pt}\selectfont\itshape] (subA) at (964,119) {Eubacteriales};
\node[text=txb,font=\fontsize{34pt}{34pt}\selectfont] (titB) at (2888,47) {Pacbio Long Read};
\node[text=txb,font=\fontsize{34pt}{34pt}\selectfont\itshape] (subB) at (2888,119) {Eubacteriales};
\node[text=black,font=\fontsize{32pt}{32pt}\selectfont] (letA) at (143,237) {A};
\node[text=black,font=\fontsize{32pt}{32pt}\selectfont] (letB) at (2172,237) {B};
% ================= legends
\shade[shading=nobs] (1890,1312) -- (1914,1312) -- (2012,1761) -- (1890,1761) -- cycle;
\node[text=txb,font=\fontsize{22pt}{22pt}\selectfont] (nodA) at (1957,1243) {Nodes};
\node[text=txb,font=\fontsize{22pt}{22pt}\selectfont,rotate=90] (nobA) at (1701,1535) {n\_obs};
\foreach \v/\y [count=\i] in {1.00/1313,7.79/1388,21.00/1462,40.60/1537,66.70/1611,99.10/1687,138.00/1761}
  \node[text=txt,anchor=east,font=\fontsize{20pt}{20pt}\selectfont] (tkA\i) at (1877,\y) {\v};
\shade[shading=nobs] (3902,1305) -- (3928,1305) -- (4021,1754) -- (3902,1754) -- cycle;
\node[text=txb,font=\fontsize{22pt}{22pt}\selectfont] (nodB) at (3965,1238) {Nodes};
\node[text=txb,font=\fontsize{22pt}{22pt}\selectfont,rotate=90] (nobB) at (3710,1531) {n\_obs};
\foreach \v/\y [count=\i] in {1.00/1308,7.11/1381,18.80/1457,36.00/1531,58.80/1607,87.10/1680,121.00/1756}
  \node[text=txt,anchor=east,font=\fontsize{20pt}{20pt}\selectfont] (tkB\i) at (3886,\y) {\v};
\end{tikzpicture}
\end{document}
